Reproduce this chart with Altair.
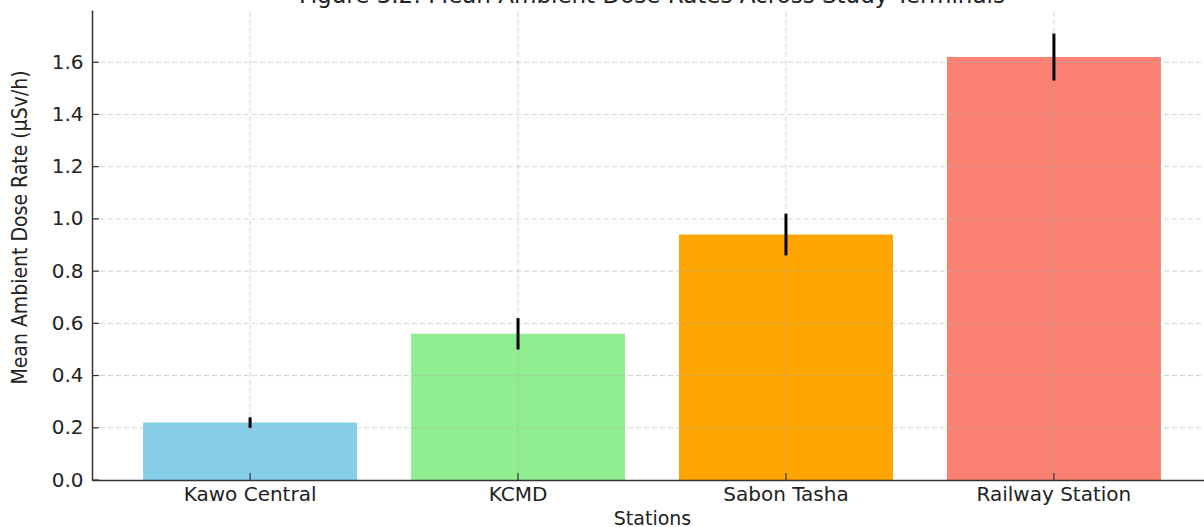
import altair as alt
import pandas as pd

# Mean ambient dose rate per bus terminal, with its spread
stations = ["Kawo Central", "KCMD", "Sabon Tasha", "Railway Station"]
mean_dose = [0.22, 0.56, 0.94, 1.62]
dose_err = [0.02, 0.06, 0.08, 0.09]
bar_colors = ["#87CEEB", "#90EE90", "#FFA500", "#FA8072"]
y_ticks = [0.0, 0.2, 0.4, 0.6, 0.8, 1.0, 1.2, 1.4, 1.6]
fig_title = ["Figure 3.2: Mean Ambient Dose Rates Across Study Terminals"]

df = pd.DataFrame({
    "station": stations,
    "mean": mean_dose,
    "low": [m - e for m, e in zip(mean_dose, dose_err)],
    "high": [m + e for m, e in zip(mean_dose, dose_err)],
})
grid_df = pd.DataFrame({"v": y_ticks[1:]})
tick_df = pd.DataFrame({"v": y_ticks})
title_df = pd.DataFrame({"t": fig_title})

FONT = "DejaVu Sans"
W, H = 1112, 470

x_scale = alt.Scale(domain=stations, range=[0, 1120], paddingInner=0.2, paddingOuter=0.19)
y_scale = alt.Scale(domain=[0, 1.8], nice=False, zero=True)

x_axis = alt.Axis(
    title="Stations", labelAngle=0, labelFont=FONT, labelFontSize=20, labelColor="#222222",
    labelPadding=4, ticks=False, grid=False, domainColor="#333333", domainWidth=1.5,
    titleFont=FONT, titleFontSize=19, titleFontWeight="normal", titleColor="#222222",
    titleBaseline="alphabetic", titleY=44, zindex=1,
)
y_axis = alt.Axis(
    title="Mean Ambient Dose Rate (µSv/h)", values=y_ticks, format=".1f",
    labelFont=FONT, labelFontSize=20, labelColor="#222222", labelPadding=9,
    ticks=False, grid=False, domainColor="#333333", domainWidth=1.5,
    titleFont="DejaVu Sans Condensed, Liberation Sans Narrow, DejaVu Sans", titleFontSize=21,
    titleFontWeight="normal", titleColor="#222222", titleAngle=-90,
    titleBaseline="middle", titleAlign="center", titleX=-72, titleY=217, zindex=1,
)

bars = alt.Chart(df).mark_bar(size=214).encode(
    x=alt.X("station:N", sort=stations, scale=x_scale, axis=x_axis),
    y=alt.Y("mean:Q", scale=y_scale, axis=y_axis),
    color=alt.Color("station:N", scale=alt.Scale(domain=stations, range=bar_colors), legend=None),
)

grid_h = alt.Chart(grid_df).mark_rule(color="#b0b0b0", opacity=0.55, strokeDash=[5, 3], strokeWidth=1).encode(
    y=alt.Y("v:Q", scale=y_scale), x=alt.value(0), x2=alt.value(1120),
)
grid_v = alt.Chart(df).mark_rule(color="#b0b0b0", opacity=0.55, strokeDash=[5, 3], strokeWidth=1).encode(
    x=alt.X("station:N", sort=stations, scale=x_scale), y=alt.value(2), y2=alt.value(H),
)

errors = alt.Chart(df).mark_rule(color="black", strokeWidth=3).encode(
    x=alt.X("station:N", sort=stations, scale=x_scale),
    y=alt.Y("low:Q", scale=y_scale),
    y2="high:Q",
)

ticks_y = alt.Chart(tick_df).mark_rule(color="#333333", strokeWidth=1.2).encode(
    y=alt.Y("v:Q", scale=y_scale), x=alt.value(0), x2=alt.value(7),
)
ticks_x = alt.Chart(df).mark_rule(color="#333333", strokeWidth=1.2).encode(
    x=alt.X("station:N", sort=stations, scale=x_scale), y=alt.value(H - 7), y2=alt.value(H),
)

# Figure title sits right at the top edge, above the plot area
title_text = alt.Chart(title_df).mark_text(
    font=FONT, fontSize=23, color="#222222", align="center", baseline="alphabetic",
).encode(text="t:N", x=alt.value(560), y=alt.value(-7))

chart = alt.layer(bars, grid_h, grid_v, errors, ticks_y, ticks_x, title_text).properties(
    width=W, height=H,
    background="white",
    autosize=alt.AutoSizeParams(type="none"),
    padding={"left": 92, "top": 10, "right": 0, "bottom": 47},
).configure_view(stroke=None)

chart.save("out.html", embed_options={"renderer": "svg", "actions": False})
